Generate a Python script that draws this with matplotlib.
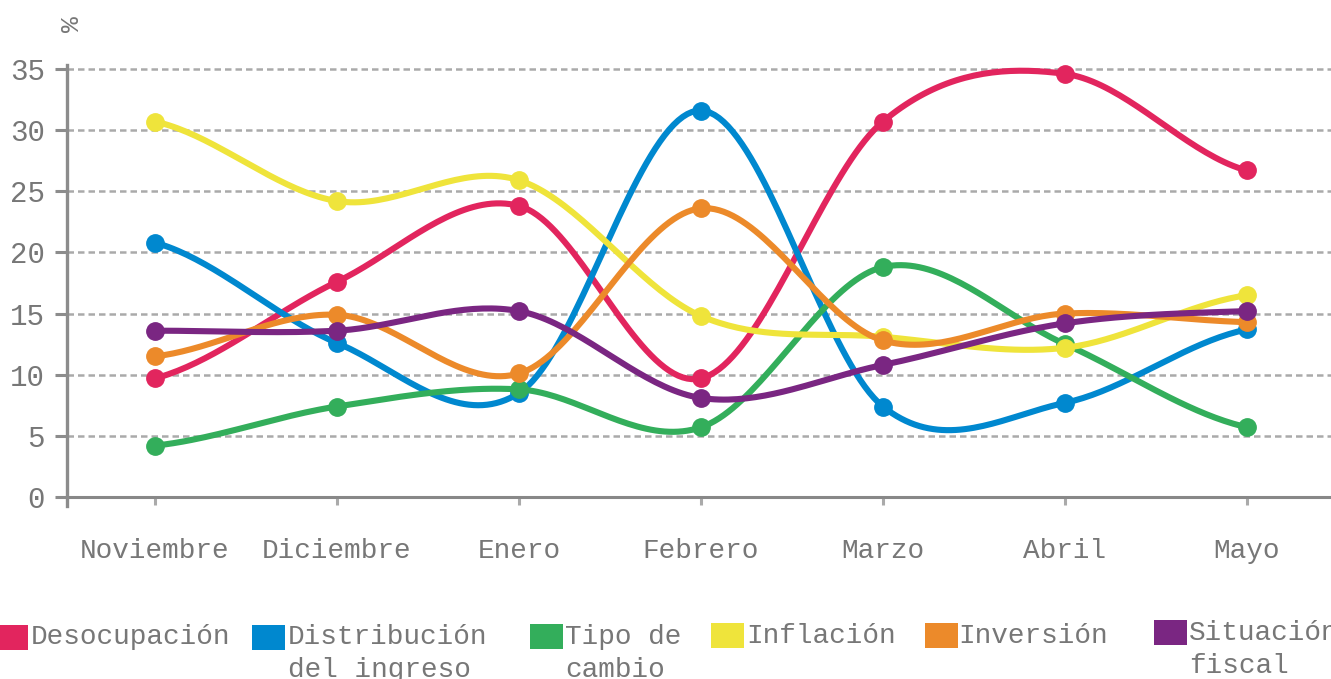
import numpy as np
import matplotlib
matplotlib.use("Agg")
import matplotlib.pyplot as plt
from matplotlib.patches import Rectangle

# months (x categories)
months = ["Noviembre", "Diciembre", "Enero", "Febrero", "Marzo", "Abril", "Mayo"]

# series values (% of respondents)
desocupacion = [9.7, 17.6, 23.8, 9.7, 30.7, 34.6, 26.7]
distribucion = [20.8, 12.6, 8.5, 31.6, 7.4, 7.7, 13.7]
tipo_cambio = [4.2, 7.4, 8.8, 5.7, 18.8, 12.5, 5.7]
inflacion = [30.7, 24.2, 25.9, 14.8, 13.1, 12.2, 16.5]
inversion = [11.5, 14.9, 10.1, 23.6, 12.8, 15.0, 14.3]
situacion_fiscal = [13.6, 13.6, 15.2, 8.1, 10.8, 14.2, 15.2]

labels = ["Desocupación", "Distribución\ndel ingreso", "Tipo de\ncambio",
          "Inflación", "Inversión", "Situación\nfiscal"]
colors = ["#e2255e", "#0088cf", "#33ae5b", "#efe43b", "#ec8a2a", "#7a2682"]
series = [desocupacion, distribucion, tipo_cambio, inflacion, inversion, situacion_fiscal]

yticks = [0, 5, 10, 15, 20, 25, 30, 35]

TXT = "#777777"
FONT = ["Liberation Mono", "DejaVu Sans Mono"]
plt.rcParams["font.family"] = FONT


def catmull_rom(y, n=40):
    # smooth curve through the points (uniform x)
    y = np.asarray(y, dtype=float)
    p = np.concatenate([[y[0]], y, [y[-1]]])
    xs, ys = [], []
    t = np.linspace(0, 1, n, endpoint=False)
    for i in range(len(y) - 1):
        p0, p1, p2, p3 = p[i], p[i + 1], p[i + 2], p[i + 3]
        seg = 0.5 * (2 * p1 + (-p0 + p2) * t + (2 * p0 - 5 * p1 + 4 * p2 - p3) * t ** 2
                     + (-p0 + 3 * p1 - 3 * p2 + p3) * t ** 3)
        xs.append(i + t)
        ys.append(seg)
    xs.append([len(y) - 1])
    ys.append([y[-1]])
    return np.concatenate(xs), np.concatenate(ys)


W, H = 1331, 679
fig = plt.figure(figsize=(W / 100, H / 100), dpi=100)
ax = fig.add_axes([67 / W, 1 - 497 / H, 1 - 67 / W, (497 - 65.3) / H])

x = np.arange(len(months))
for vals, c in zip(series, colors):
    sx, sy = catmull_rom(vals)
    ax.plot(sx, sy, color=c, lw=4.4, solid_capstyle="round", zorder=3)
    ax.plot(x, vals, "o", color=c, ms=12.5, zorder=3)

# dashed grid lines
for v in yticks[1:]:
    ax.axhline(v, color="#aaaaaa", lw=1.8, ls=(0, (2.6, 1.6)), zorder=1)
ax.axhline(0, color="#888888", lw=2.2, zorder=2, clip_on=False)

ax.set_xlim(-0.4835, 6.462)
ax.set_ylim(0, 35.3)
ax.set_yticks(yticks)
ax.set_xticks(x)
ax.set_xticklabels(months)

for s in ["top", "right", "bottom"]:
    ax.spines[s].set_visible(False)
ax.spines["left"].set_color("#8c8c8c")
ax.spines["left"].set_linewidth(2.4)
ax.spines["left"].set_bounds(-0.75, 35.3)

ax.tick_params(axis="y", direction="out", length=9, width=2.2, color="#8c8c8c",
               labelsize=21, labelcolor=TXT, pad=7)
ax.tick_params(axis="x", direction="out", length=5.5, width=2.2, color="#aaaaaa",
               labelsize=20, labelcolor=TXT, pad=24)

fig.text(72 / W, 1 - 24 / H, "%", rotation=90, color=TXT, fontsize=19,
         ha="center", va="center")

# legend drawn by hand: squares with text next to them
leg_sq_x = [-5, 252, 530, 711, 925, 1154]
leg_sq_y = [625, 625, 624, 623, 623, 620]
leg_tx_x = [31, 288, 565, 746, 958, 1189]
leg_tx_y = [637, 637, 637, 636, 636, 633]
for i, (lab, c) in enumerate(zip(labels, colors)):
    fig.add_artist(Rectangle((leg_sq_x[i] / W, 1 - (leg_sq_y[i] + 25) / H),
                             33 / W, 25 / H, transform=fig.transFigure,
                             facecolor=c, edgecolor="none"))
    for j, line in enumerate(lab.split("\n")):
        fig.text(leg_tx_x[i] / W, 1 - (leg_tx_y[i] + 33 * j) / H, line,
                 color=TXT, fontsize=20, ha="left", va="center")

fig.savefig("out.png", dpi=100)
